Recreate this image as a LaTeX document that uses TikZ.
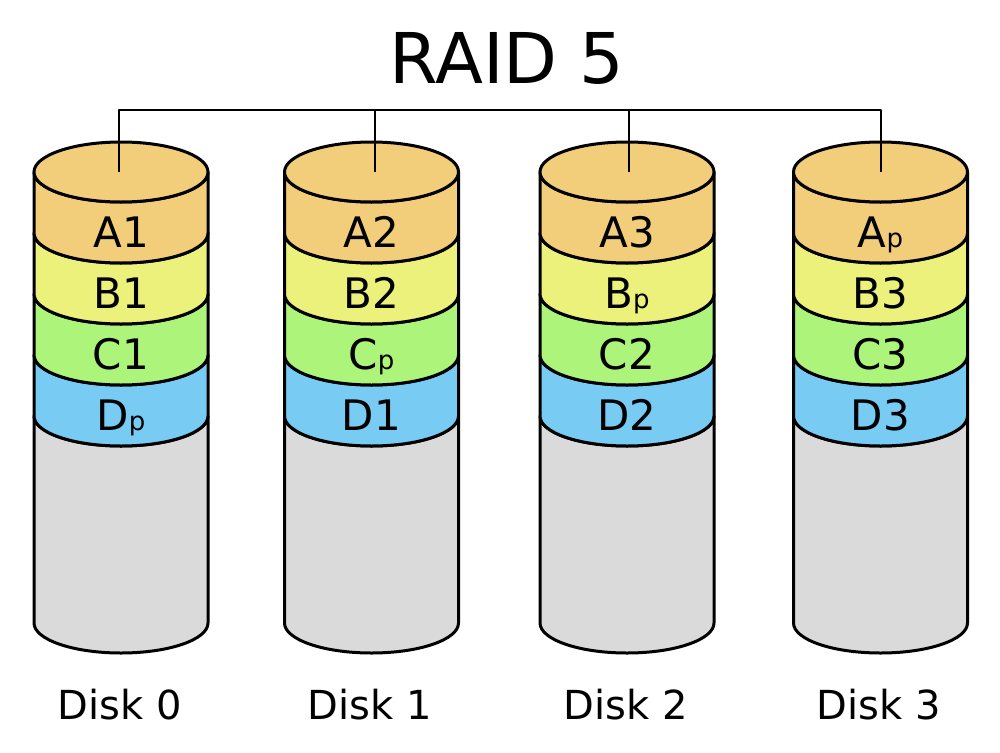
\documentclass[tikz,border=0pt]{standalone}
\usepackage{fontspec}
\setmainfont{DejaVu Sans}
\definecolor{cA}{RGB}{243,206,122}
\definecolor{cB}{RGB}{235,241,122}
\definecolor{cC}{RGB}{173,244,122}
\definecolor{cD}{RGB}{120,203,242}
\definecolor{cG}{RGB}{218,218,218}
\newcommand\parsub{{\fontsize{26}{26}\selectfont p}}
\begin{document}
\begin{tikzpicture}[x=1pt,y=1pt,line width=3pt,line join=round,
  lbl/.style={anchor=base,inner sep=0pt,font=\fontsize{42}{42}\selectfont},
  disklbl/.style={anchor=base,inner sep=0pt,font=\fontsize{40}{40}\selectfont},
  titlelbl/.style={anchor=base,inner sep=0pt,font=\fontsize{70}{70}\selectfont},
  bus/.style={line width=2.6pt}]
\fill[white] (0,0) rectangle (1000,-752);
\useasboundingbox (0,0) rectangle (1000,-752);
\node[titlelbl] (title) at (507,-83) {RAID 5};
\coordinate (bar) at (0,-110);
\foreach \cx/\n/\tx/\lA/\lB/\lC/\lD in {121/0/119/A1/B1/C1/D\parsub, 371.5/1/375/A2/B2/C\parsub/D1, 627/2/629/A3/B\parsub/C2/D2, 880.5/3/881/A\parsub/B3/C3/D3}{
  % gray body
  \filldraw[fill=cG] (\cx-87,-416) -- (\cx-87,-623)
     arc[start angle=180,end angle=360,x radius=87pt,y radius=30pt]
     -- (\cx+87,-416)
     arc[start angle=0,end angle=-180,x radius=87pt,y radius=30pt] -- cycle;
  % bands
  \foreach \k/\col in {3/cD,2/cC,1/cB,0/cA}{
    \pgfmathsetmacro\ya{-(172+61*\k)}
    \pgfmathsetmacro\yb{-(233+61*\k)}
    \filldraw[fill=\col] (\cx-87,\ya) -- (\cx-87,\yb)
       arc[start angle=180,end angle=360,x radius=87pt,y radius=30pt]
       -- (\cx+87,\ya)
       arc[start angle=0,end angle=-180,x radius=87pt,y radius=30pt] -- cycle;
  }
  % top
  \filldraw[fill=cA] (\cx,-172) ellipse[x radius=87pt,y radius=30pt];
  \coordinate (top\n) at (\tx,-172);
  \node[lbl] (a\n) at (\cx,-247) {\lA};
  \node[lbl] (b\n) at (\cx,-308) {\lB};
  \node[lbl] (c\n) at (\cx,-369) {\lC};
  \node[lbl] (d\n) at (\cx,-430) {\lD};
  \node[disklbl] (disk\n) at (\cx-1.5,-719) {Disk \n};
}
\draw[bus] (top0) -- (top0 |- bar) -- (top3 |- bar) -- (top3);
\draw[bus] (top1) -- (top1 |- bar);
\draw[bus] (top2) -- (top2 |- bar);
\end{tikzpicture}
\end{document}
